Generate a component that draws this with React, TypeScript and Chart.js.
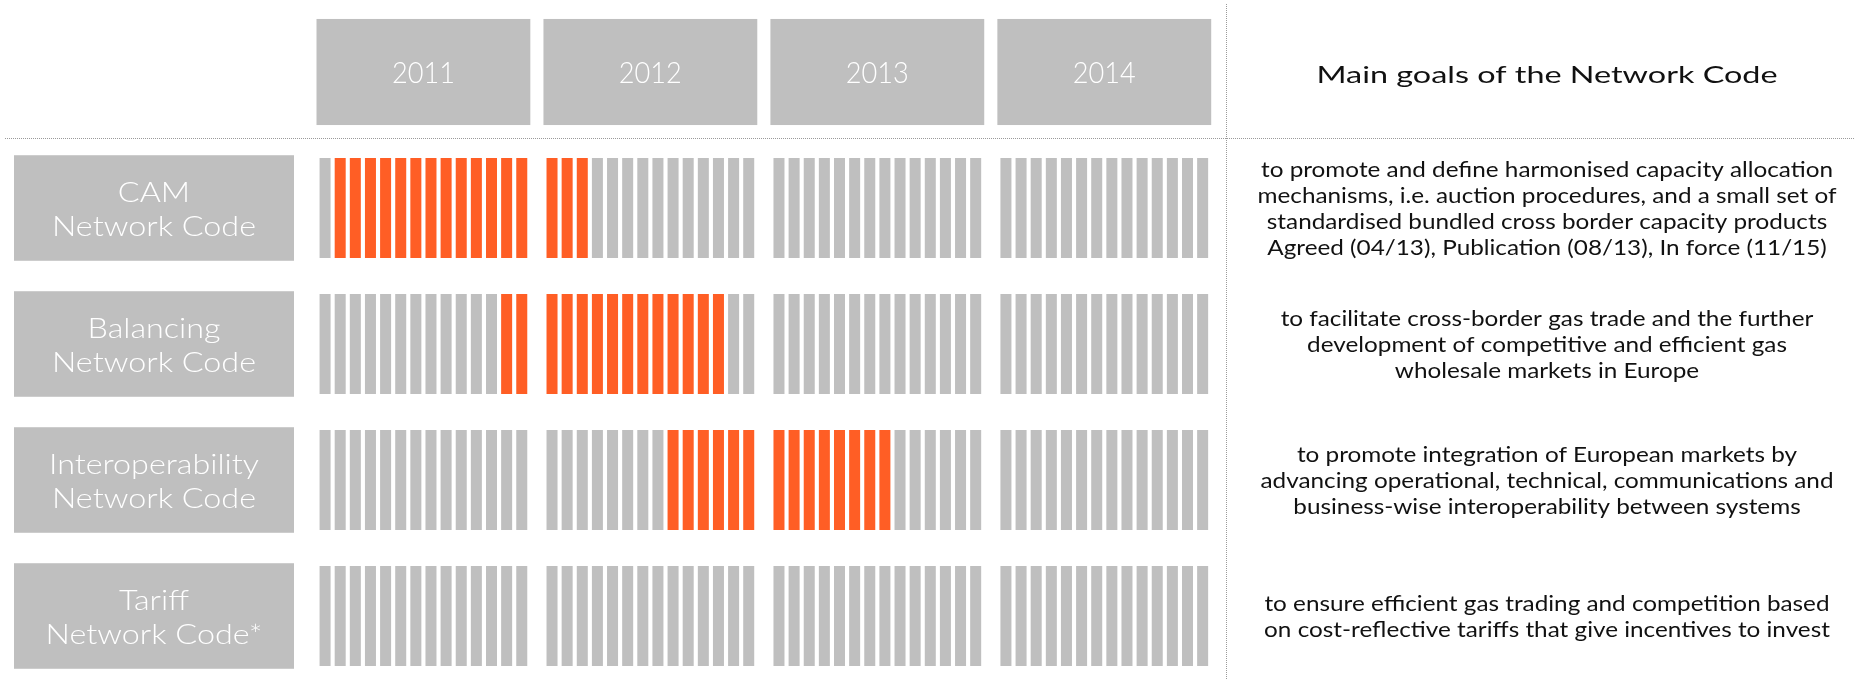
import React, { useEffect, useRef } from 'react';
import { Chart, registerables } from 'chart.js';

Chart.register(...registerables);

const years = ['2011', '2012', '2013', '2014'];
const periodsPerYear = 14;

const codeNames = [
  ['CAM', 'Network Code'],
  ['Balancing', 'Network Code'],
  ['Interoperability', 'Network Code'],
  ['Tariff', 'Network Code*'],
];

// 1 = period in progress (orange), 0 = idle (gray); 14 periods per year, 2011-2014
const camActive = [
  0, 1, 1, 1, 1, 1, 1, 1, 1, 1, 1, 1, 1, 1,
  1, 1, 1, 0, 0, 0, 0, 0, 0, 0, 0, 0, 0, 0,
  0, 0, 0, 0, 0, 0, 0, 0, 0, 0, 0, 0, 0, 0,
  0, 0, 0, 0, 0, 0, 0, 0, 0, 0, 0, 0, 0, 0,
];
const balancingActive = [
  0, 0, 0, 0, 0, 0, 0, 0, 0, 0, 0, 0, 1, 1,
  1, 1, 1, 1, 1, 1, 1, 1, 1, 1, 1, 1, 0, 0,
  0, 0, 0, 0, 0, 0, 0, 0, 0, 0, 0, 0, 0, 0,
  0, 0, 0, 0, 0, 0, 0, 0, 0, 0, 0, 0, 0, 0,
];
const interopActive = [
  0, 0, 0, 0, 0, 0, 0, 0, 0, 0, 0, 0, 0, 0,
  0, 0, 0, 0, 0, 0, 0, 0, 1, 1, 1, 1, 1, 1,
  1, 1, 1, 1, 1, 1, 1, 1, 0, 0, 0, 0, 0, 0,
  0, 0, 0, 0, 0, 0, 0, 0, 0, 0, 0, 0, 0, 0,
];
const tariffActive = [
  0, 0, 0, 0, 0, 0, 0, 0, 0, 0, 0, 0, 0, 0,
  0, 0, 0, 0, 0, 0, 0, 0, 0, 0, 0, 0, 0, 0,
  0, 0, 0, 0, 0, 0, 0, 0, 0, 0, 0, 0, 0, 0,
  0, 0, 0, 0, 0, 0, 0, 0, 0, 0, 0, 0, 0, 0,
];

const goalsTitle = 'Main goals of the Network Code';
const camGoal = [
  'to promote and define harmonised capacity allocation',
  'mechanisms, i.e. auction procedures, and a small set of',
  'standardised bundled cross border capacity products',
  'Agreed (04/13), Publication (08/13), In force (11/15)',
];
const balancingGoal = [
  'to facilitate cross-border gas trade and the further',
  'development of competitive and efficient gas',
  'wholesale markets in Europe',
];
const interopGoal = [
  'to promote integration of European markets by',
  'advancing operational, technical, communications and',
  'business-wise interoperability between systems',
];
const tariffGoal = [
  'to ensure efficient gas trading and competition based',
  'on cost-reflective tariffs that give incentives to invest',
];

const ORANGE = '#FF5E25';
const GRAY = '#BFBFBF';
const FONT = 'Lato, "DejaVu Sans", sans-serif';

export default function App() {
  const ref = useRef<HTMLCanvasElement>(null);

  useEffect(() => {
    if (!ref.current) return;
    const rows = [camActive, balancingActive, interopActive, tariffActive];
    const goals = [camGoal, balancingGoal, interopGoal, tariffGoal];

    const labels: string[] = [];
    const slotPeriod: number[] = [];
    years.forEach((yr, yi) => {
      for (let p = 0; p < periodsPerYear; p++) {
        labels.push(`${yr} P${p + 1}`);
        slotPeriod.push(yi * periodsPerYear + p);
      }
      if (yi < years.length - 1) {
        labels.push('');
        slotPeriod.push(-1);
      }
    });

    const BAR_HALF = 0.375;
    const BOX_HALF = 0.388;
    const HEAD_HALF = 0.39;

    const datasets = rows.map((active, ri) => {
      const c = ri + 1.5;
      return {
        label: codeNames[ri].join(' '),
        data: slotPeriod.map((p) => (p < 0 ? null : [c - BAR_HALF, c + BAR_HALF])),
        backgroundColor: slotPeriod.map((p) => (p >= 0 && active[p] ? ORANGE : GRAY)),
        borderColor: 'rgba(255,255,255,0.45)',
        borderWidth: 1,
        borderSkipped: false,
        grouped: false,
        barPercentage: 0.86,
        categoryPercentage: 1,
      };
    });

    const drawScaled = (ctx: CanvasRenderingContext2D, text: string, cx: number, cy: number, sx: number) => {
      ctx.save();
      ctx.translate(cx, cy);
      ctx.scale(sx, 1);
      ctx.fillText(text, 0, 0);
      ctx.restore();
    };

    const decor = {
      id: 'decor',
      beforeDatasetsDraw(chart: any) {
        const { ctx } = chart;
        const x = chart.scales.x;
        const y = chart.scales.y;
        const slotW = x.getPixelForValue(1) - x.getPixelForValue(0);
        const W = chart.width;
        const H = chart.height;

        ctx.save();
        // dotted separators
        ctx.strokeStyle = '#9a9a9a';
        ctx.lineWidth = 1;
        ctx.setLineDash([1, 1]);
        const hy = Math.round(y.getPixelForValue(0.985)) + 0.5;
        ctx.beginPath();
        ctx.moveTo(5, hy);
        ctx.lineTo(W, hy);
        ctx.stroke();
        const vx = Math.round(chart.chartArea.right + 16) + 0.5;
        ctx.beginPath();
        ctx.moveTo(vx, y.getPixelForValue(0));
        ctx.lineTo(vx, H);
        ctx.stroke();
        ctx.setLineDash([]);

        // year header boxes
        ctx.textAlign = 'center';
        ctx.textBaseline = 'middle';
        ctx.font = `300 30px ${FONT}`;
        const yearSx = 63 / ctx.measureText('2012').width;
        const hTop = y.getPixelForValue(0.5 - HEAD_HALF);
        const hBot = y.getPixelForValue(0.5 + HEAD_HALF);
        years.forEach((yr, yi) => {
          const first = yi * (periodsPerYear + 1);
          const last = first + periodsPerYear - 1;
          const l = x.getPixelForValue(first) - slotW / 2 - 1;
          const r = x.getPixelForValue(last) + slotW / 2 + 1;
          ctx.fillStyle = GRAY;
          ctx.fillRect(l, hTop, r - l, hBot - hTop);
          ctx.fillStyle = '#ffffff';
          drawScaled(ctx, yr, (l + r) / 2, (hTop + hBot) / 2 + 1, yearSx);
        });

        // row label boxes
        const boxL = 14;
        const boxR = 294;
        ctx.font = `300 28px ${FONT}`;
        const labelSx = 204 / ctx.measureText('Network Code').width;
        codeNames.forEach((lines, ri) => {
          const c = ri + 1.5;
          const t = y.getPixelForValue(c - BOX_HALF);
          const b = y.getPixelForValue(c + BOX_HALF);
          ctx.fillStyle = GRAY;
          ctx.fillRect(boxL, t, boxR - boxL, b - t);
          ctx.fillStyle = '#ffffff';
          const mid = (t + b) / 2 + 2;
          lines.forEach((ln, li) => {
            drawScaled(ctx, ln, (boxL + boxR) / 2, mid + (li - (lines.length - 1) / 2) * 34, labelSx);
          });
        });

        // goals column
        const gx = 1547;
        ctx.fillStyle = '#111111';
        ctx.font = `400 24px ${FONT}`;
        const titleSx = 461 / ctx.measureText(goalsTitle).width;
        drawScaled(ctx, goalsTitle, gx, y.getPixelForValue(0.5) + 3, titleSx);
        ctx.font = `400 22px ${FONT}`;
        const goalSx = 572 / ctx.measureText(camGoal[0]).width;
        goals.forEach((lines, ri) => {
          const mid = y.getPixelForValue(ri + 1.5) + 1;
          lines.forEach((ln, li) => {
            drawScaled(ctx, ln, gx, mid + (li - (lines.length - 1) / 2) * 25.8, goalSx);
          });
        });
        ctx.restore();
      },
    };

    const chart = new Chart(ref.current, {
      type: 'bar',
      data: { labels, datasets: datasets as any },
      options: {
        responsive: false,
        animation: false,
        events: [],
        layout: { padding: { left: 317.5, right: 644.8, top: 4, bottom: 9.6 } },
        plugins: { legend: { display: false }, tooltip: { enabled: false }, title: { display: false } },
        scales: {
          x: { type: 'category', display: false, offset: true, grid: { display: false } },
          y: { type: 'linear', display: false, reverse: true, min: 0, max: 4.9 },
        },
      },
      plugins: [decor],
    });
    return () => chart.destroy();
  }, []);

  return (
    <div style={{ position: 'fixed', left: 0, top: 0, width: 1855, height: 680, background: '#ffffff' }}>
      <canvas ref={ref} width={1855} height={680} style={{ display: 'block', width: 1855, height: 680 }} />
    </div>
  );
}
